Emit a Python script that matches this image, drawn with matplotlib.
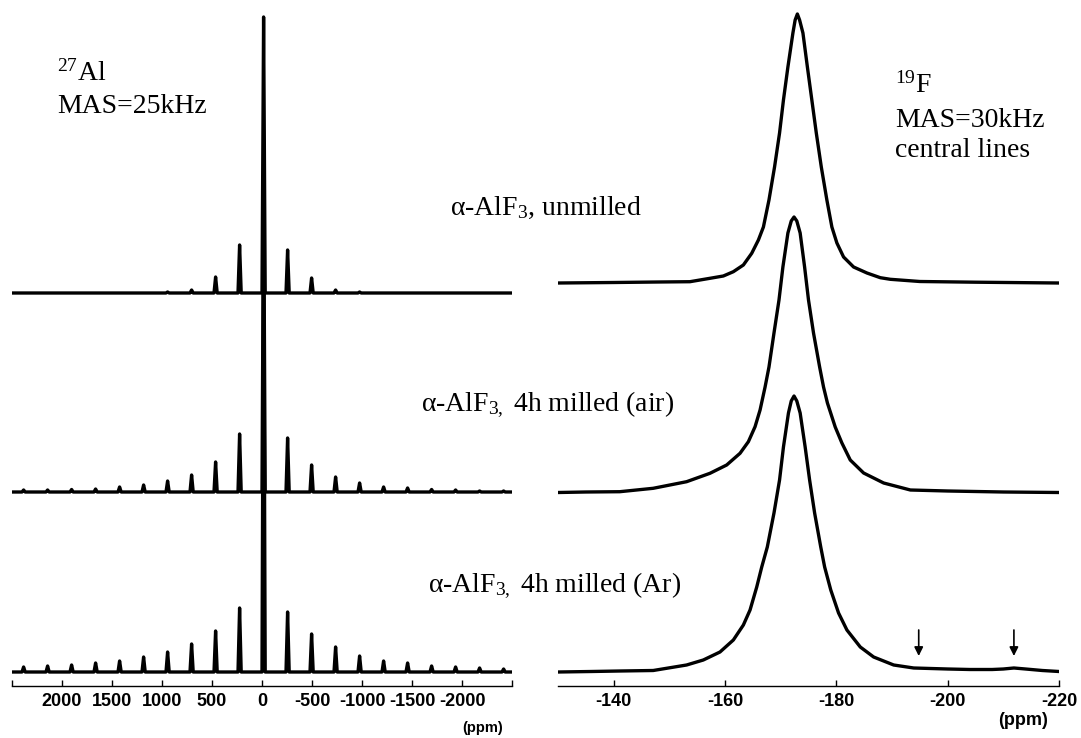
import numpy as np
import matplotlib
matplotlib.use("Agg")
import matplotlib.pyplot as plt

plt.rcParams['axes.unicode_minus'] = False
plt.rcParams['mathtext.fontset'] = 'custom'
plt.rcParams['mathtext.rm'] = 'Liberation Serif'
plt.rcParams['mathtext.it'] = 'Liberation Serif:italic'
plt.rcParams['mathtext.bf'] = 'Liberation Serif:bold'

# =============================================================================
# 27Al MAS (25 kHz): central line + spinning sidebands, ppm
# =============================================================================
al_ppm = [2384, 2144, 1904, 1664, 1424, 1184, 944, 704, 464, 224, -16,
          -256, -496, -736, -976, -1216, -1456, -1696, -1936, -2176, -2416]
al_unmilled = [0, 0, 0, 0, 0, 0, 1, 3, 16, 48, 276,
               43, 15, 3, 1, 0, 0, 0, 0, 0, 0]
al_air = [2, 2, 2.5, 3, 5, 7, 11, 17, 30, 58, 315,
          54, 27, 15, 9, 5, 4, 2.5, 2, 1, 1]
al_ar = [5, 6, 7, 9, 11, 15, 20, 28, 41, 64, 445,
         60, 38, 25, 16, 11, 9, 6, 5, 4, 3]
al_offsets = [393, 194, 14]

# =============================================================================
# 19F MAS (30 kHz): central lines, ppm vs intensity
# =============================================================================
f_unmilled_ppm = [-130, -140, -148, -153.7, -157.3, -159.7, -161.5, -163.3, -164.8,
                  -166.0, -166.9, -167.9, -168.9, -169.8, -170.5, -171.3, -172.2,
                  -172.6, -173.0, -173.4, -174.0, -174.8, -175.6, -176.4, -177.3,
                  -178.3, -179.2, -180.1, -181.3, -183.1, -185.5, -187.9, -189.7,
                  -195, -205, -220]
f_unmilled_int = [0, 0.5, 1, 1.3, 4.7, 7, 11.3, 18, 29.7,
                  43, 56, 83, 116, 150, 183, 216, 250,
                  263, 269, 263, 250, 216, 183, 150, 116,
                  83, 56, 40, 26, 16, 10, 5.3, 3.7,
                  1.5, 0.8, 0]

f_air_ppm = [-130, -135, -141.1, -147.1, -153.1, -157.3, -160.3, -162.7, -164.2,
             -165.4, -166.3, -167.2, -167.9, -168.8, -169.7, -170.4, -171.3,
             -171.9, -172.4, -172.9, -173.5, -174.3, -175.0, -175.9, -177.0,
             -177.7, -178.4, -179.8, -181.0, -182.5, -184.9, -188.5, -193.3,
             -200, -210, -220]
f_air_int = [0.5, 1, 1.3, 4.7, 11.3, 19.7, 28, 39.7, 51.3,
             66.3, 83, 106, 126, 160, 193, 226, 260,
             272, 276, 272, 260, 226, 193, 160, 126,
             106, 90, 66, 50, 33, 20, 10, 3,
             2, 1, 0.5]

f_ar_ppm = [-130, -136, -141.1, -147.1, -153.1, -156.1, -159.1, -161.5, -163.3,
            -164.5, -165.7, -166.6, -167.6, -168.8, -169.8, -170.5, -171.4,
            -171.9, -172.4, -172.9, -173.5, -174.4, -175.2, -176.1, -177.2,
            -177.9, -179.0, -180.4, -181.9, -184.3, -186.7, -190.3, -193.9,
            -200, -204, -208, -210, -211.9, -214, -217, -220]
f_ar_int = [0, 0.5, 1, 1.5, 7, 12, 20, 32, 47,
            62, 85, 105, 125, 159, 192, 225, 259,
            271, 276, 271, 259, 225, 192, 159, 125,
            105, 82, 59, 42, 25, 15, 7, 4,
            3, 2.5, 2.5, 3, 4, 3, 1.5, 0.5]
f_offsets = [403, 193, 14]

arrow_ppm = [-194.8, -211.9]

al_ticks = [2500, 2000, 1500, 1000, 500, 0, -500, -1000, -1500, -2000, -2500]
al_ticklabels = ['', '2000', '1500', '1000', '500', '0', '-500', '-1000', '-1500', '-2000', '']
f_ticks = [-140, -160, -180, -200, -220]
f_ticklabels = ['-140', '-160', '-180', '-200', '-220']

samples = ['α-AlF$_3$, unmilled',
           'α-AlF$_{3,}$ 4h milled (air)',
           'α-AlF$_{3,}$ 4h milled (Ar)']

# =============================================================================
# figure
# =============================================================================
W, H = 1081, 738
fig = plt.figure(figsize=(W / 100, H / 100), dpi=100)

def px_axes(x0, x1, y_top, y_axis):
    return fig.add_axes([x0 / W, 1 - y_axis / H, (x1 - x0) / W, (y_axis - y_top) / H])

ax1 = px_axes(12, 512, 0, 686)
ax2 = px_axes(558, 1059, 0, 686)

lw = 2.4

# 27Al: each line drawn as a narrow spike on a flat baseline
for heights, off in zip([al_unmilled, al_air, al_ar], al_offsets):
    xs, ys = [2500], [off]
    for p, h in zip(al_ppm, heights):
        xs += [p + 16, p, p - 16]
        ys += [off, off + h, off]
    xs.append(-2500)
    ys.append(off)
    ax1.plot(xs, ys, color='black', lw=lw, solid_joinstyle='round')

for ppm, inten, off in zip([f_unmilled_ppm, f_air_ppm, f_ar_ppm],
                           [f_unmilled_int, f_air_int, f_ar_int], f_offsets):
    ax2.plot(ppm, np.array(inten) + off, color='black', lw=lw, solid_joinstyle='round')

for a in arrow_ppm:
    ax2.annotate('', xy=(a, 30), xytext=(a, 56),
                 arrowprops=dict(arrowstyle='-|>', color='black', lw=1.2,
                                 mutation_scale=13, shrinkA=0, shrinkB=0))

for ax, lim, ticks, labels in [(ax1, (2500, -2500), al_ticks, al_ticklabels),
                               (ax2, (-130, -220), f_ticks, f_ticklabels)]:
    ax.set_xlim(*lim)
    ax.set_ylim(0, 686)
    for s in ['top', 'left', 'right']:
        ax.spines[s].set_visible(False)
    ax.spines['bottom'].set_linewidth(1.0)
    ax.set_yticks([])
    ax.set_xticks(ticks)
    ax.set_xticklabels(labels, fontfamily='Liberation Sans', fontweight='bold', fontsize=13)
    ax.tick_params(axis='x', direction='in', length=4.5, width=1.0, pad=5)
    ax.patch.set_visible(False)

serif = dict(fontfamily='Liberation Serif', fontsize=20, color='black')

def ftext(x, y, s, **kw):
    fig.text(x / W, 1 - y / H, s, va='baseline', **kw)

ftext(57, 81, r'$^{27}$Al', **serif)
ftext(57, 113, 'MAS=25kHz', **serif)
ftext(895, 93, r'$^{19}$F', **serif)
ftext(895, 127, 'MAS=30kHz', **serif)
ftext(895, 157, 'central lines', **serif)

ftext(450, 215, samples[0], **serif)
ftext(421, 411, samples[1], **serif)
ftext(428, 592, samples[2], **serif)

ftext(462, 732, '(ppm)', fontfamily='Liberation Sans', fontweight='bold', fontsize=10.5)
ftext(998, 725, '(ppm)', fontfamily='Liberation Sans', fontweight='bold', fontsize=13)

fig.savefig('out.png', dpi=100)
